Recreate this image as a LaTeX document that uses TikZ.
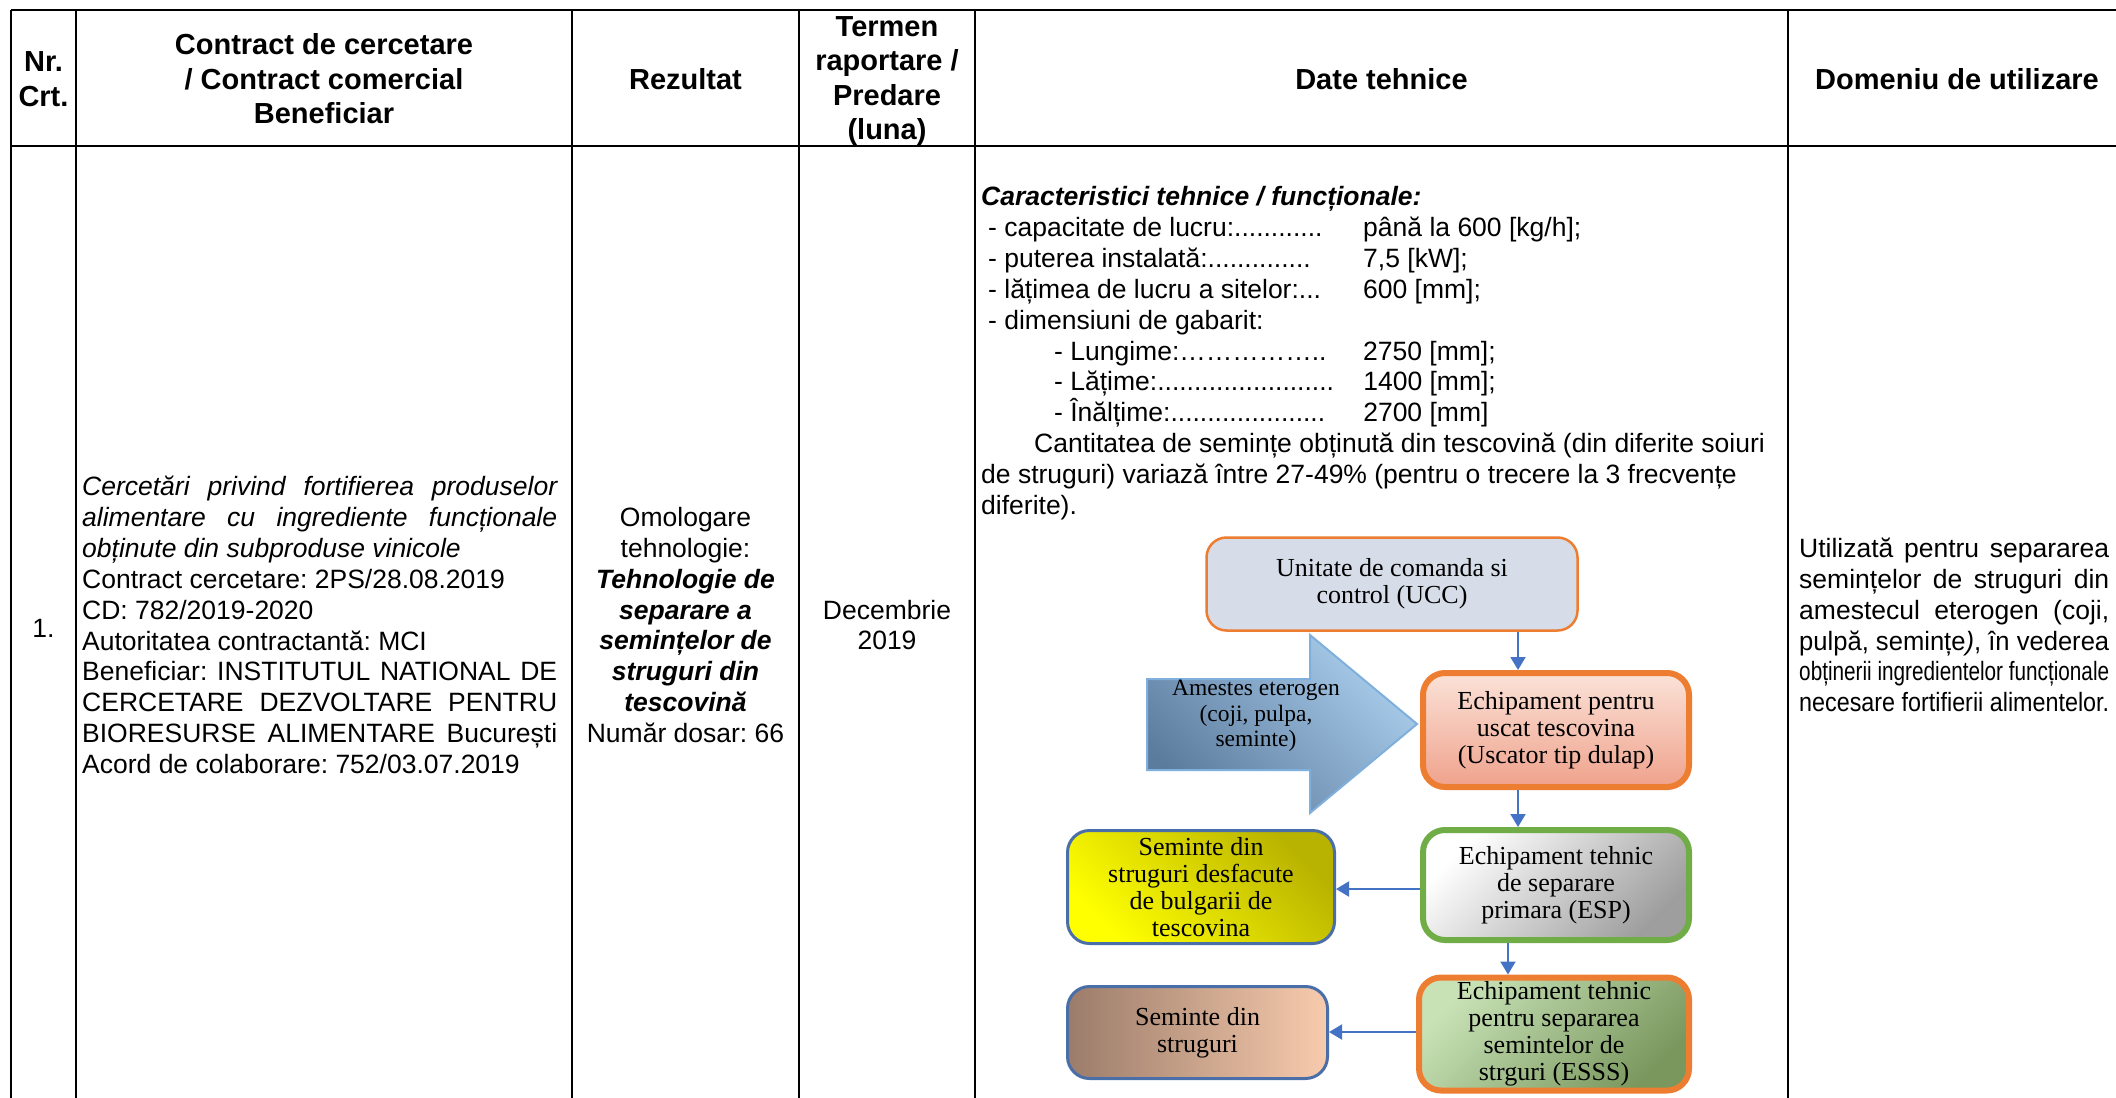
\documentclass[tikz,border=0pt]{standalone}
\usepackage{fontspec}
\usepackage{graphicx}
\setmainfont{Liberation Sans}
\newfontfamily\tnrfont{Liberation Serif}
\usetikzlibrary{arrows.meta}

\definecolor{flowblue}{HTML}{4472C4}
\definecolor{edgeorange}{HTML}{ED7D31}
\definecolor{edgegreen}{HTML}{70AD47}
\definecolor{edgeblue}{HTML}{4A6EA8}
\definecolor{uccfill}{HTML}{D7DDE8}
\definecolor{arrowedge}{HTML}{7EAFDD}
\definecolor{arrowlight}{HTML}{AACDEC}
\definecolor{arrowdark}{HTML}{5C7C9E}
\definecolor{drytop}{HTML}{FBE2D8}
\definecolor{drybot}{HTML}{EFA28C}
\definecolor{espgray}{HTML}{9E9E9E}
\definecolor{seedyellow}{HTML}{FFFF00}
\definecolor{seedolive}{HTML}{B8B200}
\definecolor{essslight}{HTML}{C8E2B6}
\definecolor{esssdark}{HTML}{7A975E}
\definecolor{brownleft}{HTML}{9B7C6A}
\definecolor{peachright}{HTML}{F8CBAD}

\newcommand{\bodyfont}{\fontsize{26.5}{30.9}\selectfont}
\newcommand{\headfont}{\fontsize{29}{34.5}\selectfont\bfseries}
\newcommand{\boxfont}{\tnrfont\fontsize{26}{27}\selectfont}
\newcommand{\plainspace}{\frenchspacing\spaceskip=0pt\xspaceskip=0pt\relax}
\newcommand{\jline}[1]{\makebox[\linewidth][s]{\plainspace #1}}
\newcommand{\fitline}[1]{\resizebox{\linewidth}{\height}{\plainspace #1}}

\begin{document}
\begin{tikzpicture}[x=1pt, y=-1pt,
    tableline/.style={line width=1.5pt},
    hcell/.style={inner sep=0pt, font=\headfont, align=flush center, text width=#1},
    bcell/.style={inner sep=0pt, font=\bodyfont, text width=#1},
    flowbox/.style={inner sep=0pt, align=flush center, font=\boxfont, rounded corners=22pt},
    flow/.style={flowblue, line width=2pt, -{Triangle[length=13pt, width=15pt]}}]
  % Page
  \useasboundingbox (0,0) rectangle (2116,1097);
  \clip (0,0) rectangle (2116,1097);
  \fill[white] (0,0) rectangle (2116,1097);
  % Table grid
  \draw[tableline] (11,10) -- (2126,10);
  \draw[tableline, line width=2pt] (11,146) -- (2126,146);
  \foreach \x in {11,76,572,799,975,1788,2126}
    \draw[tableline] (\x,10) -- (\x,1104);
  % Header row
  \node[hcell=62pt] (hnr) at (43.5,79) {\plainspace Nr.\\Crt.};
  \node[hcell=480pt] (hcontract) at (324,79) {\plainspace Contract de cercetare\\/ Contract comercial\\Beneficiar};
  \node[hcell=220pt] (hresult) at (685.5,79) {\plainspace Rezultat};
  \node[hcell=170pt] (hterm) at (887,81) {\plainspace Termen\\raportare /\\Predare\\(luna)};
  \node[hcell=600pt] (hdata) at (1381.5,79) {\plainspace Date tehnice};
  \node[hcell=330pt] (hfield) at (1957,79) {\plainspace Domeniu de utilizare};
  % Body row
  \node[font=\bodyfont, inner sep=0pt] (num) at (43.5,628) {1.};
  \node[bcell=475pt, align=left, anchor=west] (contract) at (82,625) {\plainspace
    \textit{\jline{Cercetări privind fortifierea produselor}}\\
    \textit{\jline{alimentare cu ingrediente funcționale}}\\
    \textit{obținute din subproduse vinicole}\\
    Contract cercetare: 2PS/28.08.2019\\
    CD: 782/2019-2020\\
    Autoritatea contractantă: MCI\\
    \jline{Beneficiar: INSTITUTUL NATIONAL DE}\\
    \jline{CERCETARE DEZVOLTARE PENTRU}\\
    \jline{BIORESURSE ALIMENTARE București}\\
    Acord de colaborare: 752/03.07.2019};
  \node[bcell=220pt, align=flush center] (result) at (685.5,625) {\plainspace
    Omologare\\tehnologie:\\
    \textbf{\textit{Tehnologie de}}\\\textbf{\textit{separare a}}\\
    \textbf{\textit{semințelor de}}\\\textbf{\textit{struguri din}}\\
    \textbf{\textit{tescovină}}\\
    Număr dosar: 66};
  \node[bcell=170pt, align=flush center] (term) at (887,625) {\plainspace Decembrie\\2019};
  \node[bcell=800pt, align=left, anchor=base west] (specs) at (981,205.5) {\plainspace
    \textbf{\textit{Caracteristici tehnice / funcționale:}}\\
    \hspace*{7pt}\makebox[375pt][l]{- capacitate de lucru:............}până la 600 [kg/h];\\
    \hspace*{7pt}\makebox[375pt][l]{- puterea instalată:..............}7,5 [kW];\\
    \hspace*{7pt}\makebox[375pt][l]{- lățimea de lucru a sitelor:...}600 [mm];\\
    \hspace*{7pt}- dimensiuni de gabarit:\\
    \hspace*{73pt}\makebox[309pt][l]{- Lungime:……………..}2750 [mm];\\
    \hspace*{73pt}\makebox[309pt][l]{- Lățime:........................}1400 [mm];\\
    \hspace*{73pt}\makebox[309pt][l]{- Înălțime:.....................}2700 [mm]\\
    \hspace*{53pt}Cantitatea de semințe obținută din tescovină (din diferite soiuri\\
    de struguri) variază între 27-49\% (pentru o trecere la 3 frecvențe\\
    diferite).};
  \node[bcell=310pt, align=left, anchor=west] (field) at (1799,625) {\plainspace
    \jline{Utilizată pentru separarea}\\
    \jline{semințelor de struguri din}\\
    \jline{amestecul eterogen (coji,}\\
    \fitline{pulpă, semințe\textit{)}, în vederea}\\
    \fitline{obținerii ingredientelor funcționale}\\
    \fitline{necesare fortifierii alimentelor.}};
  % Flow chart
  \coordinate (colA) at (1518,0);
  \coordinate (colB) at (1508,0);
  \coordinate (rowA) at (0,889);
  \coordinate (rowB) at (0,1032);
  \shade[draw=arrowedge, line width=2pt, top color=arrowlight, bottom color=arrowdark, shading angle=-45]
    (1147,679) -- (1310,679) -- (1310,635) -- (1417,724) -- (1310,813) -- (1310,770) -- (1147,770) -- cycle;
  \node[font=\tnrfont\fontsize{23.5}{25.5}\selectfont, align=flush center, inner sep=0pt] (mix) at (1256,716)
    {\plainspace Amestes eterogen\\(coji, pulpa,\\seminte)};
  \node[flowbox, draw=edgeorange, line width=2.5pt, fill=uccfill, rounded corners=20pt,
    minimum width=371pt, minimum height=93pt] (ucc) at (1392,584) {\plainspace Unitate de comanda si\\control (UCC)};
  \node[flowbox, draw=edgeorange, line width=6pt, top color=drytop, bottom color=drybot,
    minimum width=266pt, minimum height=114pt] (dryer) at (1556,730) {\plainspace Echipament pentru\\uscat tescovina\\(Uscator tip dulap)};
  \node[flowbox, draw=edgegreen, line width=6pt, top color=white, bottom color=espgray, shading angle=45,
    minimum width=266pt, minimum height=110pt] (esp) at (1556,885) {\plainspace Echipament tehnic\\de separare\\primara (ESP)};
  \node[flowbox, draw=edgeorange, line width=6pt, top color=essslight, bottom color=esssdark, shading angle=45,
    minimum width=270pt, minimum height=113pt] (esss) at (1554,1034) {\plainspace Echipament tehnic\\pentru separarea\\semintelor de\\strguri (ESSS)};
  \node[flowbox, draw=edgeblue, line width=3pt, top color=seedolive, bottom color=seedyellow, shading angle=-45,
    minimum width=267pt, minimum height=113pt] (seedsA) at (1201,887) {\plainspace Seminte din\\struguri desfacute\\de bulgarii de\\tescovina};
  \node[flowbox, draw=edgeblue, line width=3pt, left color=brownleft, right color=peachright,
    minimum width=260pt, minimum height=92pt] (seedsB) at (1197.5,1032.5) {\plainspace Seminte din\\struguri};
  % Connectors
  \draw[flow] (ucc.south -| colA) -- (dryer.north -| colA);
  \draw[flow] (dryer.south -| colA) -- (esp.north -| colA);
  \draw[flow] (esp.south -| colB) -- (esss.north -| colB);
  \draw[flow] (esp.west |- rowA) -- (seedsA.east |- rowA);
  \draw[flow] (esss.west |- rowB) -- (seedsB.east |- rowB);
\end{tikzpicture}
\end{document}
